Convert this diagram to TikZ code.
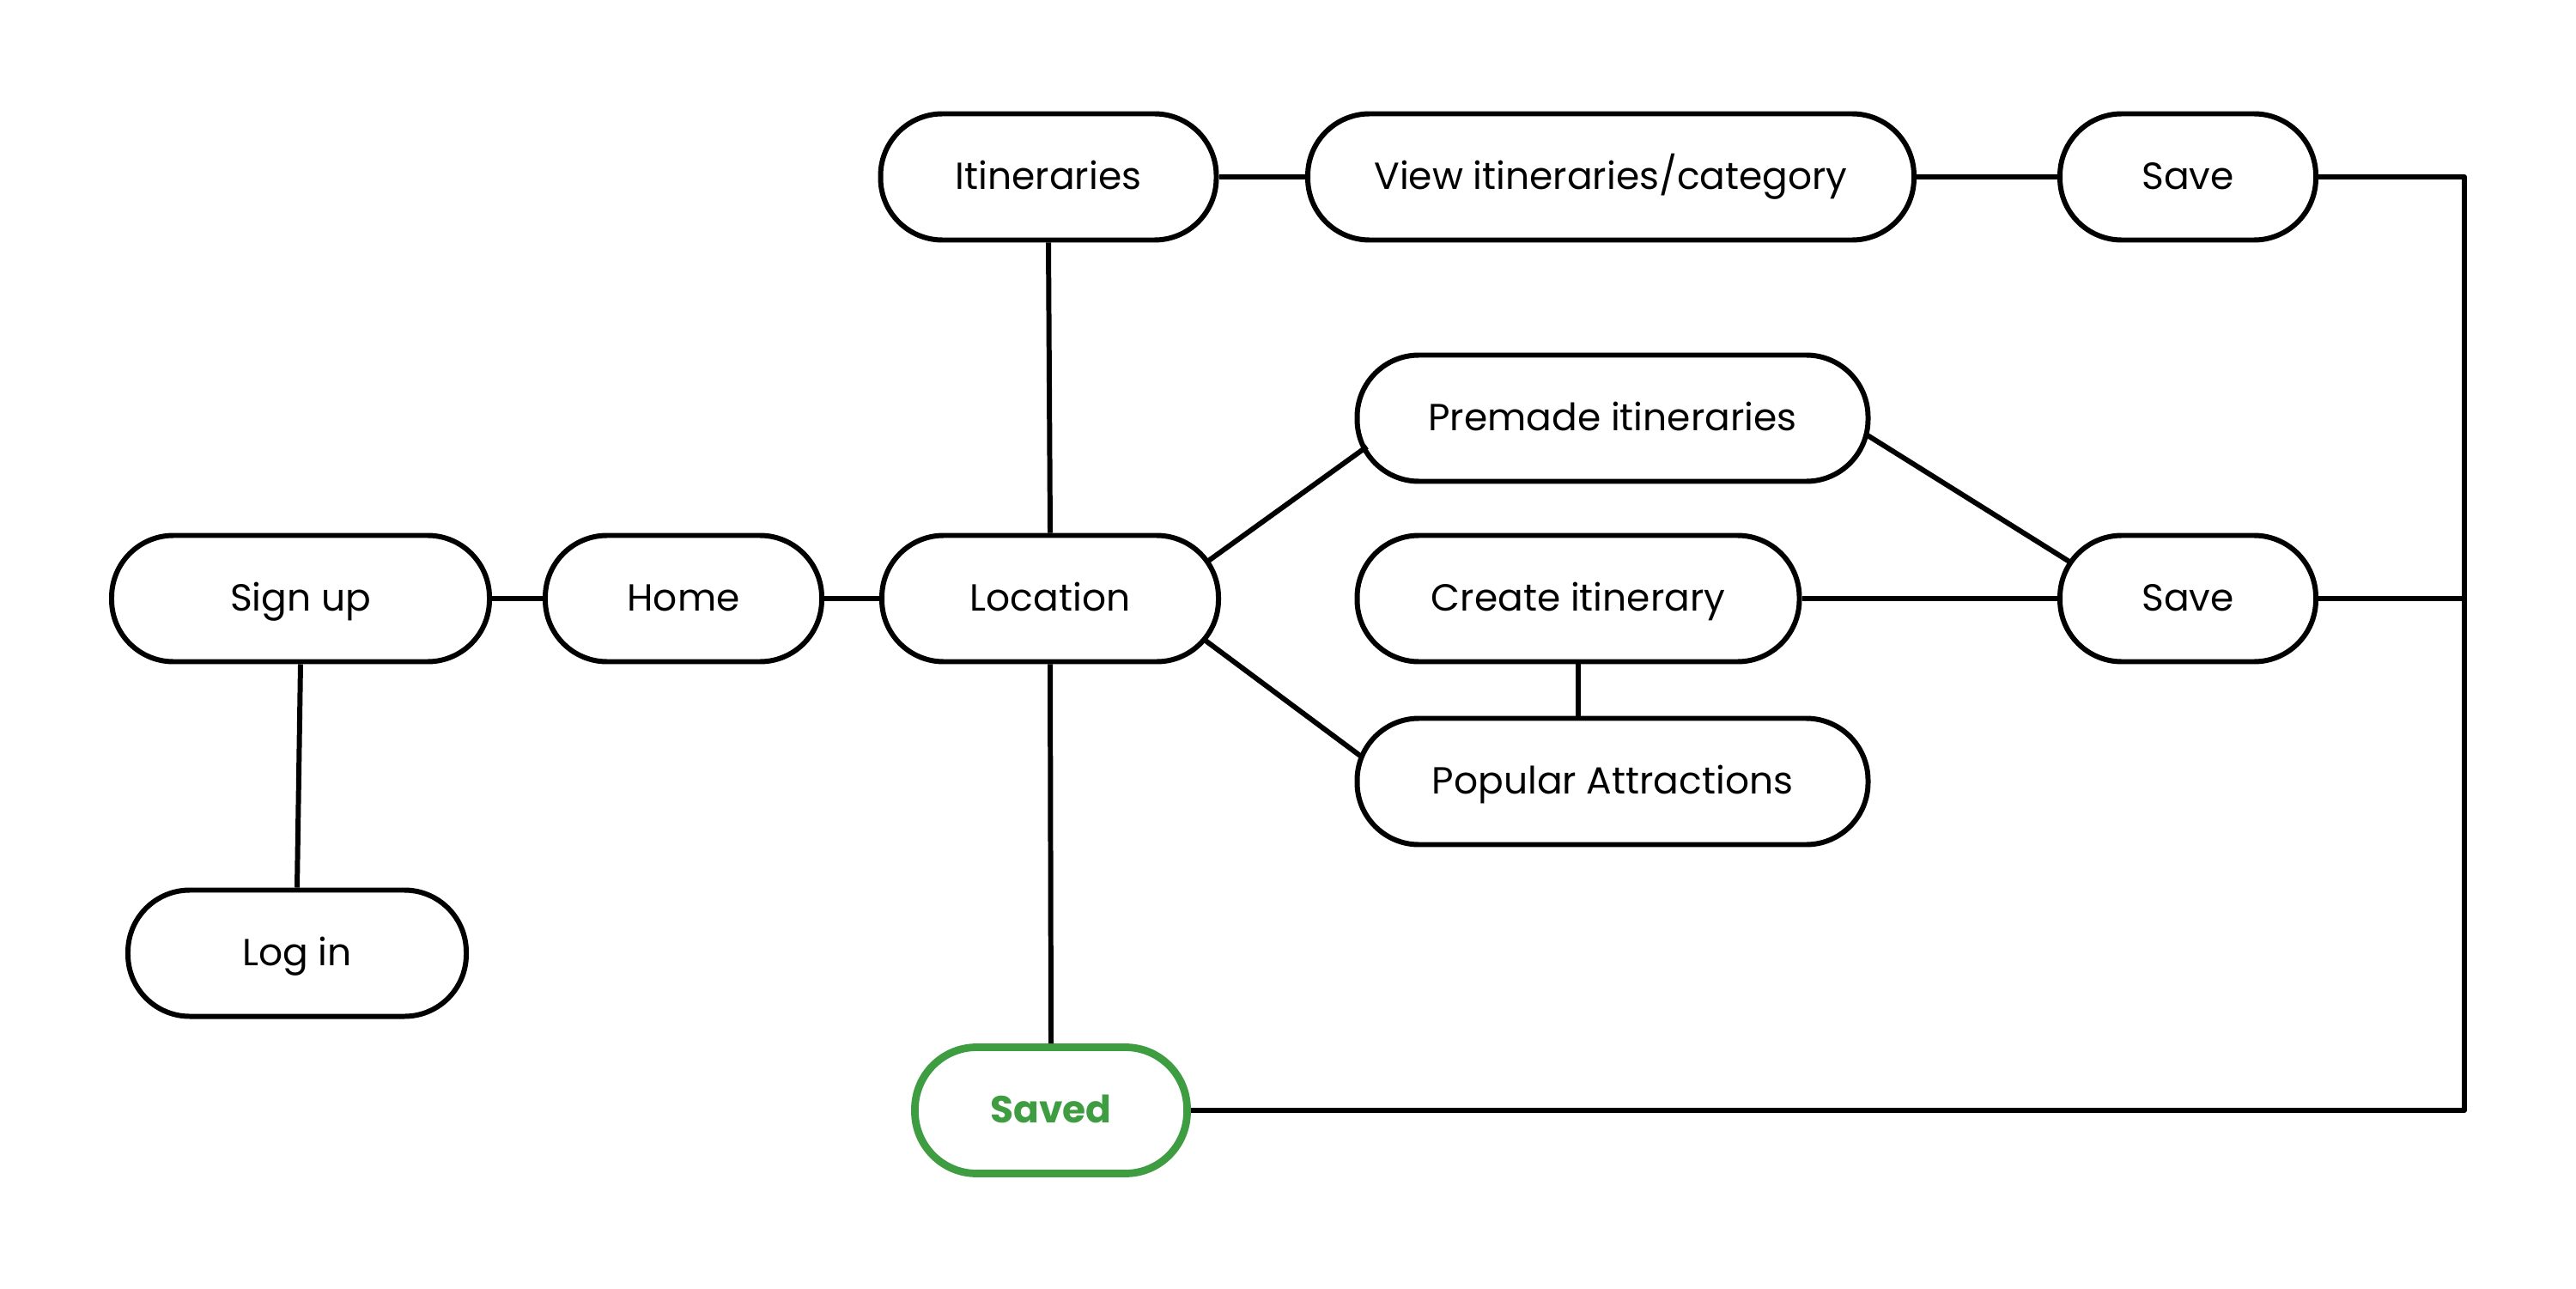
\documentclass[tikz,border=0pt]{standalone}
\usepackage{fontspec}
\setmainfont{Poppins}
\usetikzlibrary{calc}
\definecolor{savegreen}{HTML}{3F9D41}
\tikzset{
  pill/.style={draw=black, line width=1.7pt, rounded corners=0.72cm, minimum height=1.47cm,
    inner sep=0pt, font=\fontsize{12.5}{14}\selectfont, fill=white,
    text height=0.8em, text depth=0pt},
  link/.style={draw=black, line width=1.7pt},
}
\begin{document}
\begin{tikzpicture}
\useasboundingbox[fill=white] (0,0) rectangle (30,15);
% nodes (x = px/100, y = (1500-px)/100)
\node[pill, minimum width=4.40cm] (signup) at (3.50,8.03) {Sign up};
\node[pill, minimum width=3.22cm] (home) at (7.96,8.03) {Home};
\node[pill, minimum width=3.92cm] (loc) at (12.23,8.03) {Location};
\node[pill, minimum width=3.91cm] (itin) at (12.21,12.94) {Itineraries};
\node[pill, minimum width=7.06cm] (view) at (18.76,12.94) {View itineraries/category};
\node[pill, minimum width=2.98cm] (savetop) at (25.48,12.94) {Save};
\node[pill, minimum width=5.95cm] (premade) at (18.78,10.13) {Premade itineraries};
\node[pill, minimum width=5.15cm] (create) at (18.38,8.03) {Create itinerary};
\node[pill, minimum width=2.98cm] (savemid) at (25.48,8.03) {Save};
\node[pill, minimum width=5.95cm] (popular) at (18.78,5.90) {Popular Attractions};
\node[pill, minimum width=3.94cm] (login) at (3.46,3.90) {Log in};
\node[pill, draw=savegreen, line width=2.5pt, minimum width=3.17cm, text=savegreen,
  font=\fontsize{12.5}{14}\selectfont\bfseries] (saved) at (12.24,2.07) {Saved};
\coordinate (rtop) at (28.70,12.97);
\coordinate (rmid) at (28.70,8.03);
\coordinate (rbot) at (28.70,2.03);
% connectors
\draw[link] (signup.east) -- (home.west);
\draw[link] (home.east) -- (loc.west);
\draw[link] (signup.south) -- (login.north);
\draw[link] (loc.north) -- (itin.south);
\draw[link] (loc.south) -- (saved.north);
\draw[link] (itin.east) -- (view.west);
\draw[link] (view.east) -- (savetop.west);
\draw[link] ($(loc.center)+(1.83,0.43)$) -- ($(premade.center)+(-2.86,-0.33)$);
\draw[link] ($(loc.center)+(1.81,-0.49)$) -- ($(popular.center)+(-2.94,0.30)$);
\draw[link] ($(premade.center)+(2.97,-0.20)$) -- ($(savemid.center)+(-1.38,0.43)$);
\draw[link] (create.east) -- (savemid.west);
\draw[link] (create.south) -- (create.south |- popular.north);
\draw[link] (savetop.east) -- (savetop.east -| rtop);
\draw[link] (savemid.east) -- (rmid);
\draw[link] (saved.east) -- (saved.east -| rbot);
\draw[link, line cap=round] (savetop.east -| rtop) -- (saved.east -| rbot);
\end{tikzpicture}
\end{document}
